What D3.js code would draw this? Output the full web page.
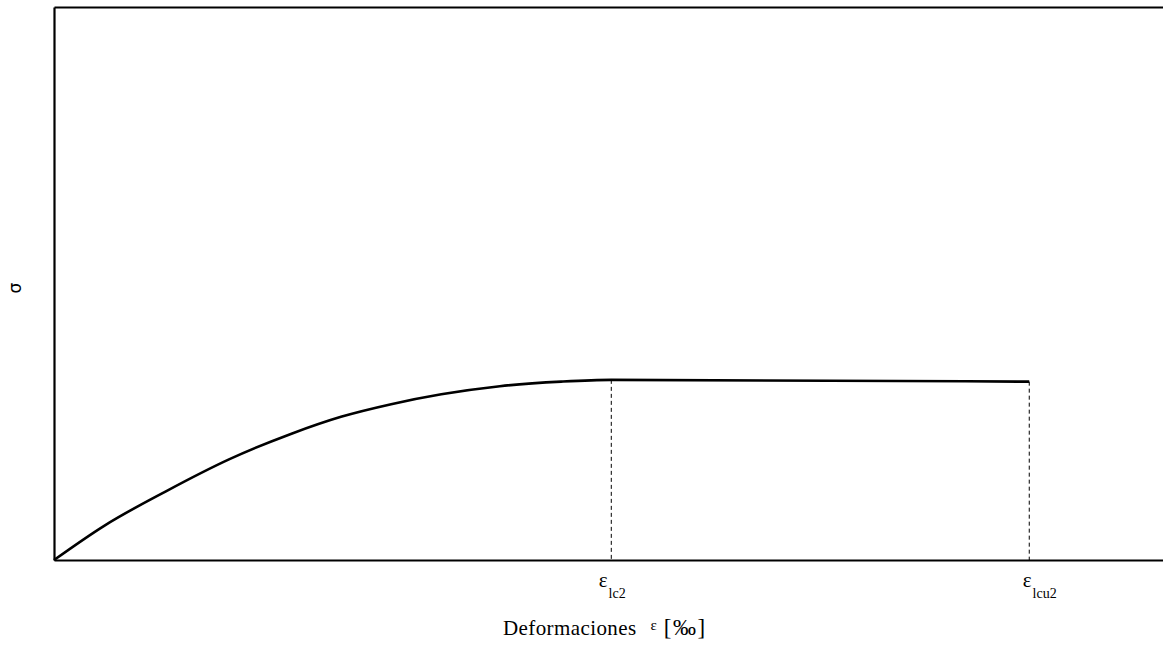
<!DOCTYPE html>
<html>
<head>
<meta charset="utf-8">
<script src="https://cdn.jsdelivr.net/npm/d3@7"></script>
<style>
  html, body { margin: 0; padding: 0; background: #fff; }
  svg { display: block; }
</style>
</head>
<body>
<svg id="chart" width="1163" height="645"></svg>
<script>
// strain values (‰)
const strainValues = [0, 0.18, 0.40, 0.63, 0.85, 1.03, 1.21, 1.39, 1.60, 1.82, 2.0, 3.5];
// normalised stress values (σ / f_lcd)
const stressValues = [0, 0.19, 0.38, 0.56, 0.70, 0.795, 0.865, 0.92, 0.965, 0.99, 1.0, 0.99];
// tick positions on the strain axis and their labels
const tickStrains = [2.0, 3.5];
const tickBase = ["ε", "ε"];
const tickSubs = ["lc2", "lcu2"];
const xTitle = "Deformaciones";
const xTitleEps = "ε";
const xTitleUnit = "[‰]";
const yTitle = "σ";

const svg = d3.select("#chart");

const x = d3.scaleLinear().domain([0, 3.98]).range([54, 1163]);
const y = d3.scaleLinear().domain([0, 3.07]).range([560, 7]);

// top frame line
svg.append("g")
  .attr("transform", `translate(0,${y(3.07)})`)
  .call(d3.axisTop(x).tickValues([]).tickSizeOuter(0))
  .call(g => g.select(".domain").attr("stroke", "#000").attr("stroke-width", 2));

// left axis
svg.append("g")
  .attr("transform", `translate(${x(0)},0)`)
  .call(d3.axisLeft(y).tickValues([]).tickSizeOuter(0))
  .call(g => g.select(".domain").attr("stroke", "#000").attr("stroke-width", 2.2));

// bottom axis with custom labels
const labelOffsets = [-13, -7];
const xAxis = svg.append("g")
  .attr("transform", `translate(0,${y(0)})`)
  .call(d3.axisBottom(x).tickValues(tickStrains).tickSize(0).tickSizeOuter(0).tickFormat(() => ""))
  .call(g => g.select(".domain").attr("stroke", "#000").attr("stroke-width", 2));

xAxis.selectAll(".tick text").each(function(d, i) {
  const t = d3.select(this)
    .attr("font-family", "'Liberation Serif', 'Times New Roman', serif")
    .attr("fill", "#000")
    .attr("text-anchor", "start")
    .attr("x", labelOffsets[i])
    .attr("y", 27)
    .attr("dy", 0);
  t.append("tspan").attr("font-size", 21).text(tickBase[i]);
  t.append("tspan").attr("font-size", 14).attr("dy", 11).attr("dx", 1).text(tickSubs[i]);
});

// dashed verticals
svg.append("g").selectAll("line")
  .data(tickStrains)
  .join("line")
  .attr("x1", d => x(d)).attr("x2", d => x(d))
  .attr("y1", d => y(stressValues[strainValues.indexOf(d)]))
  .attr("y2", y(0))
  .attr("stroke", "#000")
  .attr("stroke-width", 1)
  .attr("stroke-dasharray", "4,3");

// stress-strain curve
const line = d3.line()
  .x((d, i) => x(strainValues[i]))
  .y((d, i) => y(stressValues[i]))
  .curve(d3.curveMonotoneX);

svg.append("path")
  .datum(strainValues)
  .attr("d", line)
  .attr("fill", "none")
  .attr("stroke", "#000")
  .attr("stroke-width", 2.6)
  .attr("stroke-linejoin", "round");

// x title
const title = svg.append("text")
  .attr("x", 503)
  .attr("y", 635)
  .attr("text-anchor", "start")
  .attr("font-family", "'Liberation Serif', 'Times New Roman', serif")
  .attr("font-size", 21)
  .attr("fill", "#000");
title.append("tspan").attr("letter-spacing", 0.4).text(xTitle);
title.append("tspan").attr("font-size", 15).attr("dx", 14).attr("dy", -5).text(xTitleEps);
title.append("tspan").attr("font-size", 23).attr("dx", 7).attr("dy", 5).attr("letter-spacing", 1.5).text(xTitleUnit);

// y title (rotated sigma)
svg.append("text")
  .attr("transform", "translate(21,288) rotate(-90)")
  .attr("text-anchor", "middle")
  .attr("font-family", "'DejaVu Sans', sans-serif")
  .attr("font-size", 17)
  .attr("fill", "#000")
  .text(yTitle);
</script>
</body>
</html>
